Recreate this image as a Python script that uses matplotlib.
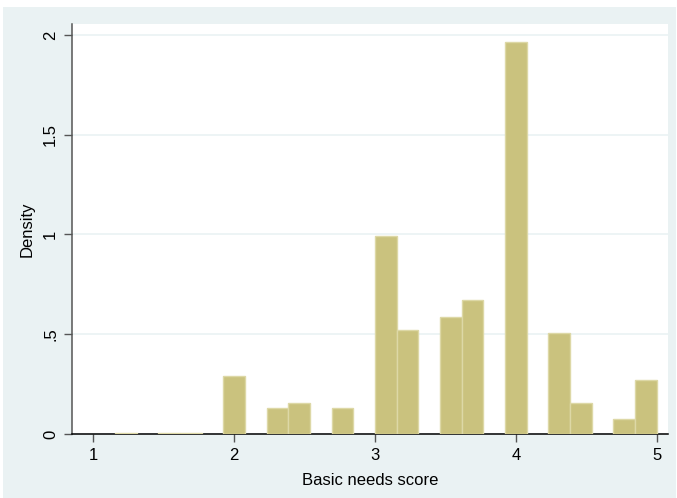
import numpy as np
import matplotlib
matplotlib.use("Agg")
import matplotlib.pyplot as plt
from matplotlib.patches import Rectangle

plt.rcParams['font.family'] = ['Liberation Sans', 'DejaVu Sans']

# Histogram of basic needs score: 26 equal bins between 1 and 5
bin_start = 1.0
bin_end = 5.0
n_bins = 26
density = [0.0, 0.006, 0.0, 0.006, 0.006, 0.0, 0.290, 0.0, 0.129, 0.155,
           0.0, 0.129, 0.0, 0.992, 0.521, 0.0, 0.588, 0.672, 0.0, 1.966,
           0.0, 0.505, 0.157, 0.0, 0.075, 0.269]
x_ticks = [1, 2, 3, 4, 5]
y_ticks = [0, 0.5, 1, 1.5, 2]
y_tick_labels = ["0", ".5", "1", "1.5", "2"]
x_label = "Basic needs score"
y_label = "Density"

W, H = 677, 498
fig = plt.figure(figsize=(W / 100, H / 100), dpi=100)
fig.patch.set_facecolor("white")

# graph region background
bg = Rectangle((3 / W, 0 / H), 673 / W, 491 / H,
               transform=fig.transFigure, facecolor="#EAF2F3",
               edgecolor="none", zorder=-5)
fig.add_artist(bg)

ax = fig.add_axes([72 / W, 1 - 434 / H, (668 - 72) / W, (434 - 24) / H])
ax.set_zorder(2)
ax.set_facecolor("white")

edges = np.linspace(bin_start, bin_end, n_bins + 1)
width = edges[1] - edges[0]
dens = np.array(density)
filled = dens > 0  # empty bins draw nothing
ax.bar(edges[:-1][filled], dens[filled], width=width, align="edge",
       color="#CAC27E", edgecolor="#DDD8A6", linewidth=1.0, zorder=3)

ax.set_xlim(0.849, 5.080)
ax.set_ylim(0, 2.055)

ax.set_xticks(x_ticks)
ax.set_xticklabels([str(t) for t in x_ticks])
ax.set_yticks(y_ticks)
ax.set_yticklabels(y_tick_labels, rotation=90, va="center")

ax.grid(axis="y", color="#EAF2F3", linewidth=1.2, zorder=0)
ax.set_axisbelow(True)

for s in ["top", "right"]:
    ax.spines[s].set_visible(False)
ax.spines["left"].set_color("#555555")
ax.spines["left"].set_linewidth(1.1)
ax.spines["bottom"].set_color("#000000")
ax.spines["bottom"].set_linewidth(1.1)

ax.tick_params(axis="both", direction="out", length=6, width=1,
               color="#555555", labelsize=12, labelcolor="#000000", pad=4)

ax.set_xlabel(x_label, fontsize=12, labelpad=7)
ax.set_ylabel(y_label, fontsize=12, labelpad=6)

fig.savefig("out.png", dpi=100, facecolor=fig.get_facecolor())
